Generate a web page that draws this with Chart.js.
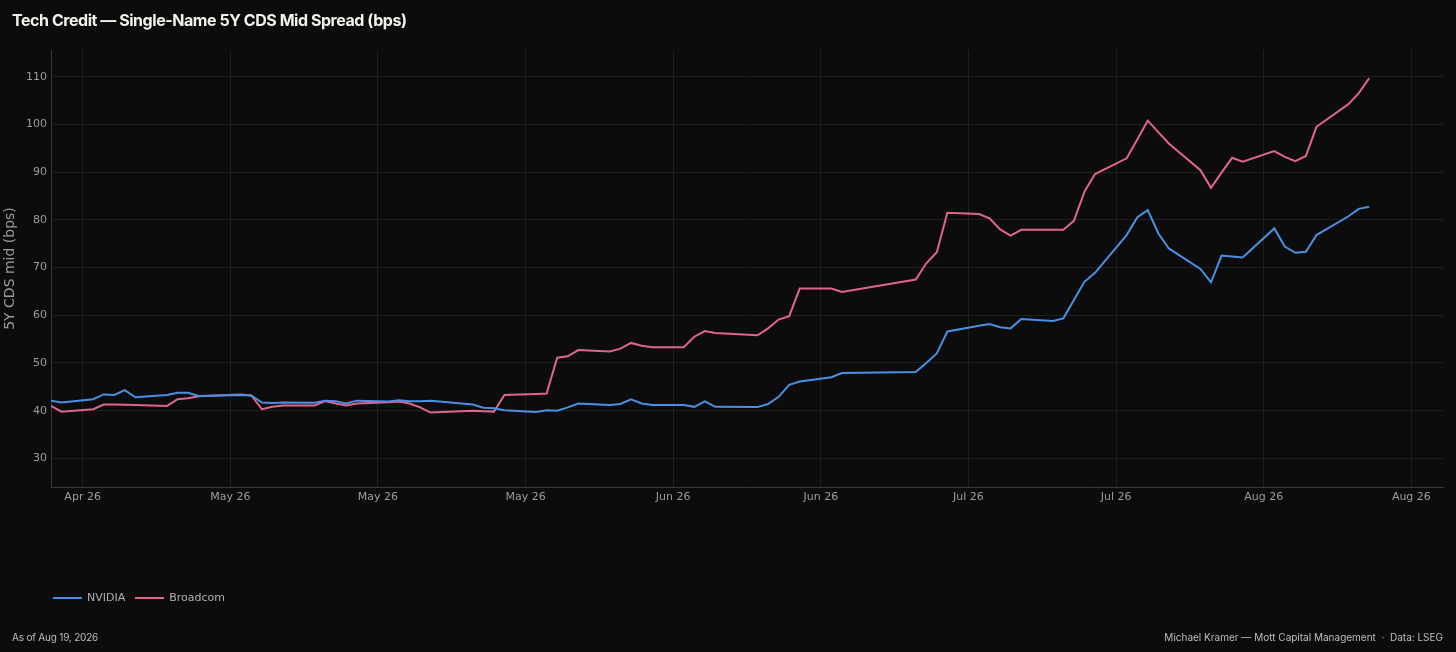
<!DOCTYPE html>
<html>
<head>
<meta charset="utf-8">
<script src="https://cdn.jsdelivr.net/npm/chart.js@4.4.1/dist/chart.umd.min.js"></script>
<style>
  html, body { margin: 0; padding: 0; background: #0c0c0c; }
  body { width: 1456px; height: 652px; position: relative; overflow: hidden; font-family: Inter, "Liberation Sans", sans-serif; }
  #chart { position: absolute; left: 0; top: 0; }
  h1 { position: absolute; left: 12px; top: 10px; margin: 0; font-size: 16px; line-height: 20px; font-weight: 700; color: #f3f1ea; letter-spacing: -0.45px; }
  #legend { position: absolute; left: 53px; top: 591px; display: flex; font-family: "DejaVu Sans", sans-serif; font-size: 11px; line-height: 14px; color: #b0b0b0; }
  #legend .item { display: flex; align-items: center; margin-right: 10px; }
  #legend .swatch { width: 29px; height: 2px; margin-right: 5px; }
  .foot { position: absolute; top: 630px; font-size: 10px; line-height: 14px; color: #bdbdbd; }
  #asof { left: 12px; letter-spacing: -0.2px; }
  #credit { right: 13px; }
</style>
</head>
<body>
<canvas id="chart" width="1456" height="652"></canvas>
<h1>Tech Credit — Single-Name 5Y CDS Mid Spread (bps)</h1>
<div id="legend"></div>
<div class="foot" id="asof">As of Aug 19, 2026</div>
<div class="foot" id="credit">Michael Kramer — Mott Capital Management &nbsp;·&nbsp; Data: LSEG</div>
<script>
const dates = [
  "2026-04-16", "2026-04-17", "2026-04-20", "2026-04-21", "2026-04-22", "2026-04-23", "2026-04-24",
  "2026-04-27", "2026-04-28", "2026-04-29", "2026-04-30", "2026-05-04", "2026-05-05", "2026-05-06",
  "2026-05-07", "2026-05-08", "2026-05-11", "2026-05-12", "2026-05-13", "2026-05-14", "2026-05-15",
  "2026-05-18", "2026-05-19", "2026-05-20", "2026-05-21", "2026-05-22", "2026-05-26", "2026-05-27",
  "2026-05-28", "2026-05-29", "2026-06-01", "2026-06-02", "2026-06-03", "2026-06-04", "2026-06-05",
  "2026-06-08", "2026-06-09", "2026-06-10", "2026-06-11", "2026-06-12", "2026-06-15", "2026-06-16",
  "2026-06-17", "2026-06-18", "2026-06-22", "2026-06-23", "2026-06-24", "2026-06-25", "2026-06-26",
  "2026-06-29", "2026-06-30", "2026-07-07", "2026-07-08", "2026-07-09", "2026-07-10", "2026-07-13",
  "2026-07-14", "2026-07-15", "2026-07-16", "2026-07-17", "2026-07-20", "2026-07-21", "2026-07-22",
  "2026-07-23", "2026-07-24", "2026-07-27", "2026-07-28", "2026-07-29", "2026-07-30", "2026-07-31",
  "2026-08-03", "2026-08-04", "2026-08-05", "2026-08-06", "2026-08-07", "2026-08-10", "2026-08-11",
  "2026-08-12", "2026-08-13", "2026-08-14", "2026-08-17", "2026-08-18", "2026-08-19"
];

const nvidia = [
  42.1, 41.7, 42.4, 43.4, 43.3, 44.3, 42.8,
  43.3, 43.75, 43.75, 43.1, 43.3, 43.2, 41.7,
  41.6, 41.7, 41.65, 42.1, 42.0, 41.5, 42.1,
  41.9, 42.2, 41.95, 42.0, 42.1, 41.3, 40.6,
  40.5, 40.1, 39.7, 40.1, 40.0, 40.7, 41.5,
  41.2, 41.4, 42.4, 41.5, 41.2, 41.2, 40.8,
  41.95, 40.8, 40.75, 41.4, 42.9, 45.4, 46.1,
  47.0, 47.9, 48.1, 50.0, 52.0, 56.6, 57.8,
  58.15, 57.5, 57.25, 59.2, 58.8, 59.35, 63.2,
  67.0, 68.9, 76.8, 80.5, 82.05, 77.2, 74.0,
  69.7, 66.9, 72.5, 72.3, 72.1, 78.2, 74.4,
  73.1, 73.3, 76.8, 80.7, 82.3, 82.75
];

const broadcom = [
  41.0, 39.8, 40.3, 41.3, 41.3, 41.25, 41.2,
  41.0, 42.4, 42.6, 43.0, 43.4, 43.2, 40.3,
  40.8, 41.1, 41.1, 42.0, 41.5, 41.1, 41.5,
  41.75, 41.9, 41.5, 40.7, 39.6, 40.0, 39.9,
  39.8, 43.3, 43.5, 43.6, 51.1, 51.4, 52.7,
  52.4, 53.0, 54.2, 53.6, 53.3, 53.3, 55.5,
  56.7, 56.3, 55.8, 57.25, 59.1, 59.8, 65.6,
  65.6, 64.9, 67.5, 70.9, 73.2, 81.5, 81.2,
  80.3, 78.0, 76.7, 77.9, 77.9, 77.9, 79.8,
  85.9, 89.6, 92.9, 96.8, 100.8, 98.4, 96.0,
  90.4, 86.7, 89.9, 93.0, 92.2, 94.4, 93.2,
  92.3, 93.4, 99.5, 104.2, 106.5, 109.7
];

const tickDates = [
  "2026-04-19", "2026-05-03", "2026-05-17", "2026-05-31", "2026-06-14",
  "2026-06-28", "2026-07-12", "2026-07-26", "2026-08-09", "2026-08-23"
];
const yTicks = [30, 40, 50, 60, 70, 80, 90, 100, 110];
const monthNames = ["Jan", "Feb", "Mar", "Apr", "May", "Jun", "Jul", "Aug", "Sep", "Oct", "Nov", "Dec"];

const tickColor = "#9c9c9c";
const gridColor = "#1f1f1f";

function toPoints(values) {
  return dates.map((d, i) => ({ x: Date.parse(d), y: values[i] }));
}

function fmtDate(v) {
  const d = new Date(v);
  return monthNames[d.getUTCMonth()] + " " + String(d.getUTCFullYear()).slice(2);
}

const chart = new Chart(document.getElementById("chart"), {
  type: "line",
  data: {
    datasets: [
      { label: "NVIDIA", data: toPoints(nvidia), borderColor: "#4a90e2", borderWidth: 2, pointRadius: 0, tension: 0 },
      { label: "Broadcom", data: toPoints(broadcom), borderColor: "#e0648c", borderWidth: 2, pointRadius: 0, tension: 0 }
    ]
  },
  options: {
    responsive: false,
    animation: false,
    layout: { padding: { left: 0, top: 50, right: 13, bottom: 135 } },
    plugins: {
      legend: { display: false },
      tooltip: { enabled: false }
    },
    scales: {
      x: {
        type: "linear",
        min: Date.parse("2026-04-16"),
        max: Date.parse("2026-08-26"),
        afterBuildTicks: s => { s.ticks = tickDates.map(d => ({ value: Date.parse(d) })); },
        afterFit: s => { s.height = 30; },
        ticks: {
          callback: v => fmtDate(v),
          color: tickColor,
          font: { family: "DejaVu Sans", size: 11 },
          padding: 4,
          maxRotation: 0,
          autoSkip: false
        },
        grid: { color: gridColor, drawTicks: false },
        border: { color: "#3a3a3a" }
      },
      y: {
        min: 24,
        max: 115.6,
        afterBuildTicks: s => { s.ticks = yTicks.map(v => ({ value: v })); },
        afterFit: s => { s.width = 51; },
        ticks: {
          color: tickColor,
          font: { family: "DejaVu Sans", size: 11 },
          padding: 4
        },
        title: {
          display: true,
          text: "5Y CDS mid (bps)",
          color: tickColor,
          font: { family: "DejaVu Sans", size: 14 },
          padding: { top: 2, bottom: 0 }
        },
        grid: { color: gridColor, drawTicks: false },
        border: { color: "#3a3a3a" }
      }
    }
  }
});

// legend under the plot, built from the datasets
const legend = document.getElementById("legend");
chart.data.datasets.forEach(ds => {
  const item = document.createElement("div");
  item.className = "item";
  item.innerHTML = '<span class="swatch" style="background:' + ds.borderColor + '"></span>' + ds.label;
  legend.appendChild(item);
});
</script>
</body>
</html>
